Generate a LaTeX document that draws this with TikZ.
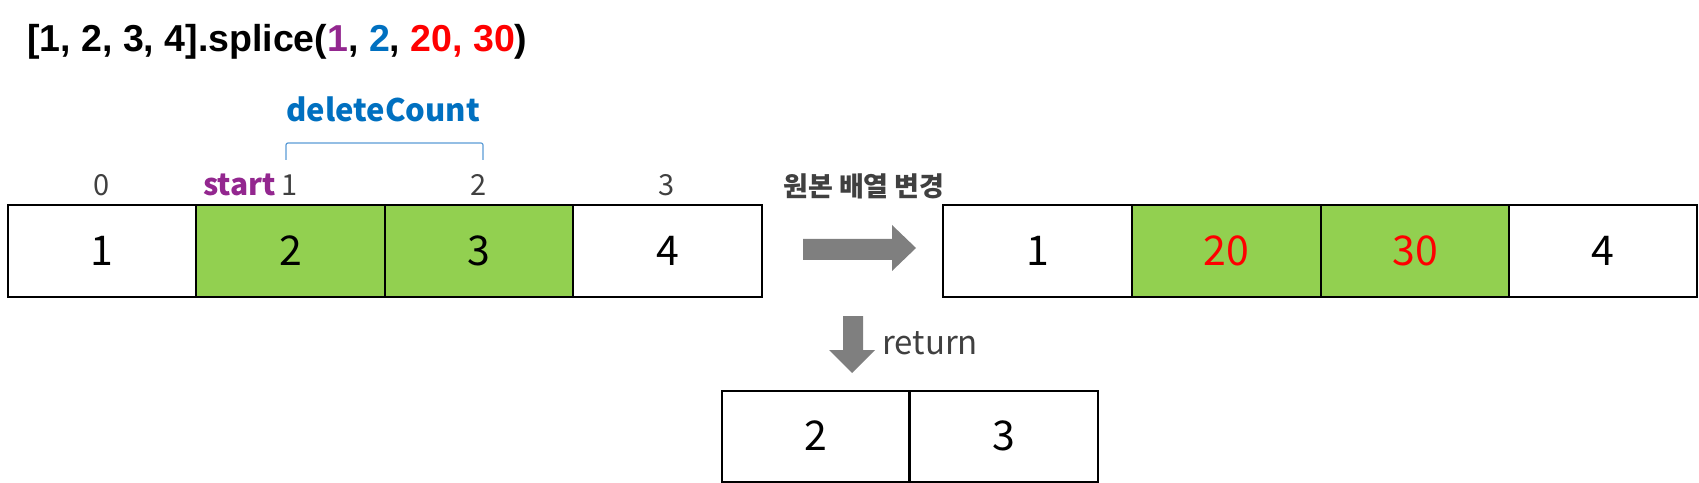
\documentclass[tikz,border=0pt]{standalone}
\usepackage{fontspec}
\setmainfont{Liberation Sans}
\newfontfamily\kr{Noto Sans CJK KR}
\definecolor{cellgreen}{HTML}{92D050}
\definecolor{startpurple}{HTML}{93278F}
\definecolor{dcblue}{HTML}{0070C0}
\definecolor{brblue}{HTML}{5B9BD5}
\definecolor{txtgray}{HTML}{404040}
\definecolor{arrgray}{HTML}{7F7F7F}
\tikzset{
  cell/.style={draw=black, line width=2bp, minimum width=188.5bp, minimum height=91bp, inner sep=0pt, font=\kr\fontsize{41bp}{48bp}\selectfont},
  greencell/.style={cell, fill=cellgreen},
  idx/.style={anchor=base, inner sep=0pt, text=txtgray, font=\kr\fontsize{29bp}{34bp}\selectfont},
  blockarrow/.style={fill=arrgray, draw=none},
}
\begin{document}
\begin{tikzpicture}[x=1bp,y=-1bp]
\useasboundingbox (0,0) rectangle (1699,483);
% title
\node[anchor=base west, inner sep=0pt, font=\bfseries\fontsize{37.5bp}{46bp}\selectfont] (title) at (27,52)
  {[1, 2, 3, 4].splice(\textcolor{startpurple}{1}, \textcolor{dcblue}{2}, \textcolor{red}{20, 30})};
% left array
\node[cell] (a1) at (102.2,251) {1};
\node[greencell] (a2) at (290.7,251) {2};
\node[greencell] (a3) at (479.2,251) {3};
\node[cell] (a4) at (667.7,251) {4};
% index labels
\node[idx] (i0) at (102,196) {0};
\node[idx] (i1) at (290,196) {1};
\node[idx] (i2) at (479,196) {2};
\node[idx] (i3) at (667,196) {3};
\node[anchor=base east, inner sep=0pt, text=startpurple, font=\kr\bfseries\fontsize{30bp}{36bp}\selectfont] (start) at (276,196) {start};
% deleteCount bracket
\coordinate (b1) at (286,160);
\coordinate (b2) at (483,160);
\draw[brblue, line width=1.2bp, rounded corners=2bp] (b1) -- (286,143) -- (483,143) -- (b2);
\node[anchor=base, inner sep=0pt, text=dcblue, font=\kr\bfseries\fontsize{31bp}{38bp}\selectfont] (dc) at (383,122) {deleteCount};
% Korean label
\node[anchor=base west, inner sep=0pt, text=txtgray, font=\kr\bfseries\fontsize{27bp}{32bp}\selectfont] (orig) at (783,197) {원본 배열 변경};
% right arrow
\fill[blockarrow] (803,239) -- (892,239) -- (892,225) -- (916,248) -- (892,271) -- (892,260) -- (803,260) -- cycle;
% right array
\node[cell] (r1) at (1037.5,251) {1};
\node[greencell, text=red] (r2) at (1226.5,251) {20};
\node[greencell, text=red] (r3) at (1415,251) {30};
\node[cell] (r4) at (1603,251) {4};
% down arrow
\fill[blockarrow] (843,316) -- (863,316) -- (863,350) -- (875,350) -- (852,373) -- (829,350) -- (843,350) -- cycle;
\node[anchor=base west, inner sep=0pt, text=txtgray, font=\kr\fontsize{33bp}{40bp}\selectfont] (ret) at (882,354) {return};
% returned array
\node[cell] (s1) at (816,436) {2};
\node[cell] (s2) at (1003.5,436) {3};
\end{tikzpicture}
\end{document}
